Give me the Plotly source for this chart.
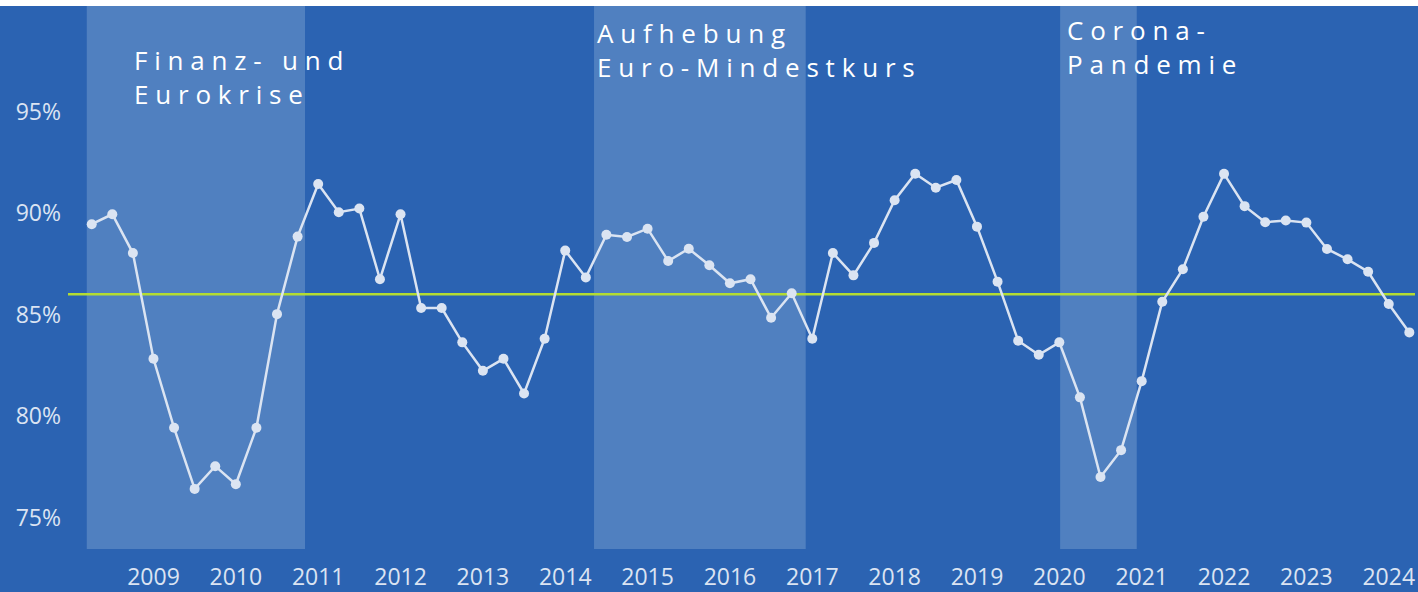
import plotly.graph_objects as go

# quarterly values, 2008 Q2 .. 2024 Q2
start_year = 2008
start_quarter = 2
utilization = [
    89.45, 89.94, 88.03,
    82.82, 79.42, 76.41, 77.53,
    76.64, 79.42, 85.02, 88.84,
    91.43, 90.04, 90.22, 86.74,
    89.94, 85.32, 85.32, 83.63,
    82.23, 82.82, 81.11, 83.81,
    88.15, 86.83, 88.93, 88.82,
    89.23, 87.64, 88.24, 87.43,
    86.54, 86.74, 84.84, 86.05,
    83.81, 88.03, 86.93, 88.53,
    90.63, 91.94, 91.25, 91.63,
    89.33, 86.62, 83.71, 83.02,
    83.63, 80.92, 77.00, 78.32,
    81.72, 85.63, 87.23, 89.82,
    91.93, 90.34, 89.55, 89.63,
    89.53, 88.23, 87.72, 87.11,
    85.52, 84.12,
]
average = 86.0

tick_years = list(range(2009, 2025))
y_ticks = [75, 80, 85, 90, 95]

# shaded periods (start, end) in fractional years and their labels
periods = [(2008.19, 2010.84), (2014.35, 2016.92), (2020.01, 2020.94)]
period_labels = [
    ["Finanz- und", "Eurokrise"],
    ["Aufhebung", "Euro-Mindestkurs"],
    ["Corona-", "Pandemie"],
]

BG = "#2b63b2"
BAND = "#5080c0"
POINT = "#dbe4f2"
GREEN = "#b4dc32"
FONT = "Open Sans"

x = [start_year + (start_quarter - 1 + i) / 4 for i in range(len(utilization))]

fig = go.Figure()
fig.add_trace(
    go.Scatter(
        x=x,
        y=utilization,
        mode="lines+markers",
        line=dict(color=POINT, width=2.5),
        marker=dict(color=POINT, size=10),
        showlegend=False,
    )
)

shapes = [
    dict(type="rect", xref="paper", yref="paper", x0=-0.1, x1=1.1, y0=1, y1=1.1,
         fillcolor="white", line=dict(width=0), layer="above"),
]
for x0, x1 in periods:
    shapes.append(
        dict(type="rect", xref="x", yref="paper", x0=x0, x1=x1, y0=0, y1=1,
             fillcolor=BAND, line=dict(width=0), layer="below")
    )
shapes.append(
    dict(type="line", xref="paper", yref="y", x0=0, x1=1, y0=average, y1=average,
         line=dict(color=GREEN, width=2.5), layer="below")
)

label_pos = [(2008.74, 0.937), (2014.36, 0.988), (2020.065, 0.992)]
annotations = []
for (ax, ay), lines in zip(label_pos, period_labels):
    text = "<br>".join(f'<span style="letter-spacing:6.8px">{ln}</span>' for ln in lines)
    annotations.append(
        dict(x=ax, y=ay, xref="x", yref="paper", xanchor="left", yanchor="top",
             align="left", showarrow=False, text=text,
             font=dict(family=FONT, size=26, color="white"))
    )

fig.update_layout(
    width=1418,
    height=592,
    margin=dict(l=68, r=3, t=6, b=43),
    paper_bgcolor=BG,
    plot_bgcolor=BG,
    shapes=shapes,
    annotations=annotations,
    font=dict(family=FONT, size=23, color=POINT),
)
fig.update_xaxes(
    range=[2007.962, 2024.319],
    tickvals=tick_years,
    ticktext=[str(y) for y in tick_years],
    showgrid=False,
    zeroline=False,
    showline=False,
    ticklabelstandoff=12,
    automargin=False,
)
fig.update_yaxes(
    range=[73.45, 100.2],
    tickvals=y_ticks,
    ticktext=[f"{v}%" for v in y_ticks],
    showgrid=False,
    zeroline=False,
    showline=False,
    ticklabelstandoff=6,
    automargin=False,
)

fig.write_html(
    "out.html",
    config={"displayModeBar": False},
    post_script="document.body.style.margin='0';",
)
